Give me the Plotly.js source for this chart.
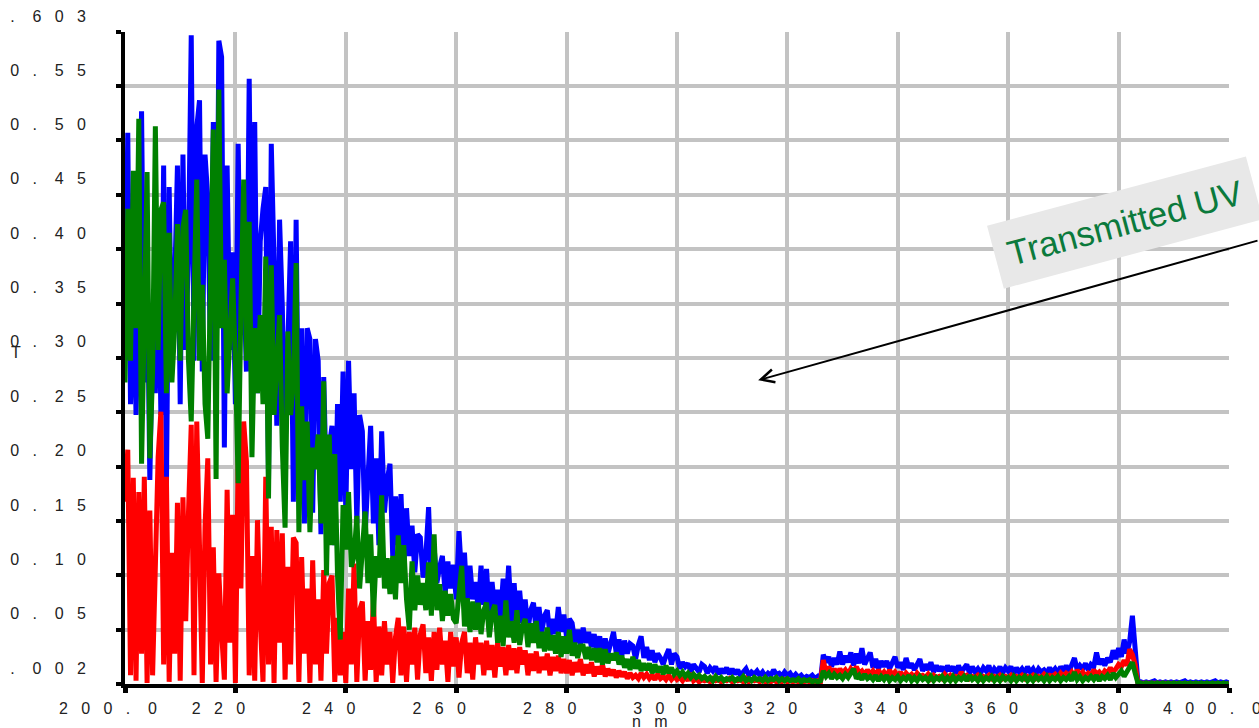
<!DOCTYPE html>
<html>
<head>
<meta charset="utf-8">
<script src="https://cdn.plot.ly/plotly-3.0.1.min.js"></script>
<style>
  html, body { margin: 0; padding: 0; background: #ffffff; }
  #chart { width: 1259px; height: 728px; }
</style>
</head>
<body>
<div id="chart"></div>
<script>
// Wavelength grid (nm): first sample and sampling step
const wavelengthStart = 200;
const wavelengthStep = 0.5;

// Transmittance, one row per 5 nm (10 samples)
const blueT = [
  0.30,0.51,0.26,0.38,0.25,0.36,0.53,0.28,0.40,0.19,
  0.33,0.27,0.42,0.25,0.48,0.18,0.46,0.30,0.37,0.48,
  0.26,0.49,0.31,0.40,0.60,0.30,0.515,0.54,0.29,0.49,
  0.45,0.30,0.52,0.27,0.595,0.58,0.22,0.48,0.31,0.40,
  0.26,0.50,0.33,0.38,0.29,0.56,0.30,0.52,0.27,0.41,
  0.44,0.46,0.19,0.50,0.39,0.24,0.43,0.35,0.22,0.30,
  0.41,0.17,0.43,0.19,0.33,0.15,0.33,0.32,0.16,0.32,
  0.30,0.14,0.285,0.18,0.22,0.24,0.13,0.26,0.17,0.29,
  0.16,0.30,0.20,0.27,0.15,0.25,0.235,0.14,0.19,0.24,
  0.15,0.21,0.13,0.235,0.16,0.19,0.205,0.12,0.175,0.13,
  0.177,0.11,0.164,0.12,0.148,0.105,0.14,0.137,0.10,0.12,
  0.165,0.09,0.128,0.095,0.11,0.12,0.085,0.115,0.09,0.112,
  0.08,0.143,0.10,0.123,0.075,0.111,0.08,0.096,0.07,0.111,
  0.075,0.108,0.065,0.096,0.07,0.089,0.062,0.099,0.07,0.111,
  0.06,0.095,0.055,0.088,0.058,0.08,0.052,0.07,0.077,0.05,
  0.073,0.05,0.065,0.07,0.046,0.062,0.048,0.073,0.05,0.066,
  0.045,0.062,0.058,0.04,0.052,0.038,0.054,0.04,0.05,0.036,
  0.048,0.032,0.046,0.03,0.044,0.03,0.04,0.05,0.03,0.043,
  0.028,0.042,0.03,0.039,0.037,0.025,0.038,0.046,0.026,0.036,
  0.024,0.033,0.022,0.03,0.026,0.02,0.028,0.034,0.02,0.03,
  0.027,0.016,0.022,0.018,0.021,0.013,0.02,0.017,0.013,0.02,
  0.018,0.012,0.017,0.014,0.018,0.011,0.016,0.012,0.017,0.011,
  0.016,0.011,0.015,0.01,0.014,0.016,0.01,0.013,0.011,0.014,
  0.01,0.013,0.009,0.012,0.01,0.015,0.011,0.012,0.009,0.013,
  0.01,0.012,0.008,0.011,0.008,0.01,0.007,0.009,0.008,0.01,
  0.007,0.009,0.006,0.029,0.022,0.027,0.018,0.026,0.02,0.032,
  0.02,0.028,0.022,0.031,0.019,0.03,0.021,0.035,0.02,0.026,
  0.031,0.017,0.025,0.016,0.023,0.018,0.023,0.016,0.021,0.027,
  0.017,0.022,0.015,0.026,0.017,0.021,0.015,0.02,0.025,0.014,
  0.02,0.015,0.022,0.013,0.019,0.014,0.018,0.012,0.019,0.014,
  0.018,0.012,0.019,0.013,0.017,0.02,0.012,0.018,0.013,0.016,
  0.012,0.017,0.014,0.019,0.011,0.016,0.013,0.018,0.012,0.017,
  0.014,0.018,0.011,0.017,0.013,0.016,0.012,0.018,0.013,0.016,
  0.011,0.016,0.013,0.015,0.012,0.017,0.013,0.016,0.012,0.018,
  0.014,0.019,0.013,0.02,0.026,0.015,0.019,0.016,0.021,0.015,
  0.02,0.018,0.031,0.02,0.025,0.019,0.026,0.022,0.033,0.025,
  0.035,0.027,0.043,0.03,0.041,0.065,0.04,0.004,0.004,0.003,
  0.004,0.003,0.004,0.005,0.003,0.004,0.003,0.004,0.003,0.004,
  0.003,0.004,0.003,0.004,0.005,0.003,0.004,0.003,0.004,0.003,
  0.004,0.003,0.004,0.003,0.004,0.005,0.003,0.004,0.003,0.004,
  0.003
];

const redT = [
  0.17,0.218,0.01,0.192,0.005,0.179,0.03,0.193,0.003,0.162,
  0.01,0.12,0.211,0.253,0.02,0.193,0.004,0.123,0.03,0.169,
  0.005,0.174,0.06,0.16,0.241,0.01,0.244,0.128,0.003,0.147,
  0.21,0.02,0.128,0.004,0.104,0.05,0.006,0.181,0.04,0.158,
  0.003,0.21,0.09,0.244,0.207,0.01,0.12,0.005,0.153,0.06,
  0.004,0.193,0.02,0.147,0.003,0.144,0.04,0.141,0.006,0.11,
  0.02,0.137,0.132,0.004,0.119,0.03,0.09,0.003,0.116,0.02,
  0.08,0.005,0.107,0.03,0.095,0.102,0.004,0.063,0.01,0.05,
  0.003,0.09,0.02,0.113,0.004,0.07,0.078,0.005,0.06,0.015,
  0.081,0.004,0.055,0.01,0.06,0.02,0.05,0.003,0.045,0.063,
  0.01,0.055,0.004,0.05,0.02,0.054,0.006,0.048,0.057,0.012,
  0.045,0.005,0.05,0.015,0.054,0.02,0.042,0.004,0.05,0.018,
  0.045,0.008,0.04,0.05,0.012,0.04,0.006,0.045,0.02,0.04,
  0.01,0.042,0.015,0.038,0.008,0.04,0.018,0.036,0.01,0.038,
  0.015,0.035,0.012,0.036,0.02,0.033,0.01,0.03,0.014,0.032,
  0.012,0.027,0.015,0.03,0.01,0.027,0.014,0.028,0.012,0.025,
  0.012,0.024,0.01,0.022,0.013,0.025,0.01,0.02,0.012,0.022,
  0.009,0.018,0.011,0.02,0.009,0.016,0.01,0.015,0.008,0.014,
  0.009,0.013,0.007,0.012,0.008,0.01,0.007,0.012,0.008,0.011,
  0.007,0.01,0.006,0.011,0.007,0.009,0.006,0.01,0.006,0.009,
  0.006,0.008,0.005,0.009,0.005,0.012,0.005,0.007,0.004,0.006,
  0.005,0.006,0.004,0.007,0.005,0.006,0.004,0.006,0.005,0.007,
  0.004,0.006,0.005,0.006,0.004,0.007,0.004,0.006,0.005,0.006,
  0.004,0.006,0.004,0.005,0.004,0.006,0.004,0.005,0.004,0.006,
  0.004,0.005,0.004,0.005,0.004,0.005,0.004,0.005,0.004,0.005,
  0.004,0.005,0.004,0.024,0.012,0.018,0.011,0.016,0.01,0.016,
  0.012,0.015,0.011,0.016,0.013,0.018,0.012,0.014,0.01,0.015,
  0.011,0.014,0.01,0.015,0.01,0.013,0.009,0.015,0.01,0.013,
  0.009,0.013,0.008,0.012,0.009,0.011,0.008,0.012,0.009,0.01,
  0.008,0.011,0.007,0.01,0.008,0.009,0.007,0.011,0.008,0.01,
  0.007,0.009,0.008,0.013,0.009,0.01,0.007,0.009,0.008,0.01,
  0.007,0.009,0.008,0.01,0.007,0.009,0.008,0.01,0.007,0.009,
  0.008,0.01,0.007,0.009,0.008,0.01,0.007,0.009,0.008,0.01,
  0.007,0.009,0.008,0.011,0.008,0.01,0.009,0.011,0.008,0.012,
  0.009,0.012,0.01,0.013,0.009,0.015,0.01,0.013,0.009,0.012,
  0.01,0.015,0.011,0.013,0.01,0.014,0.012,0.017,0.013,0.016,
  0.02,0.018,0.024,0.019,0.034,0.029,0.02,0.003,0.003,0.002,
  0.003,0.002,0.003,0.002,0.003,0.002,0.003,0.002,0.003,0.002,
  0.003,0.002,0.003,0.002,0.003,0.002,0.003,0.002,0.003,0.002,
  0.003,0.002,0.003,0.002,0.003,0.002,0.003,0.002,0.003,0.002,
  0.002
];

const greenT = [
  0.28,0.44,0.30,0.475,0.33,0.523,0.205,0.35,0.474,0.21,
  0.29,0.516,0.31,0.439,0.446,0.27,0.418,0.28,0.33,0.426,
  0.30,0.423,0.439,0.30,0.244,0.36,0.467,0.30,0.37,0.26,
  0.228,0.38,0.513,0.191,0.55,0.33,0.393,0.27,0.32,0.376,
  0.30,0.187,0.35,0.467,0.30,0.428,0.211,0.33,0.27,0.342,
  0.26,0.396,0.173,0.388,0.25,0.30,0.342,0.22,0.146,0.327,
  0.25,0.28,0.39,0.142,0.258,0.19,0.244,0.142,0.22,0.20,
  0.232,0.15,0.281,0.102,0.232,0.13,0.214,0.102,0.043,0.167,
  0.126,0.179,0.11,0.12,0.157,0.09,0.13,0.161,0.095,0.14,
  0.064,0.12,0.10,0.176,0.09,0.118,0.085,0.12,0.08,0.139,
  0.095,0.13,0.08,0.052,0.115,0.07,0.102,0.075,0.095,0.07,
  0.114,0.065,0.14,0.07,0.094,0.06,0.088,0.065,0.085,0.062,
  0.058,0.08,0.111,0.055,0.081,0.05,0.078,0.052,0.077,0.048,
  0.07,0.077,0.045,0.068,0.075,0.04,0.065,0.037,0.079,0.045,
  0.06,0.04,0.07,0.038,0.055,0.062,0.036,0.058,0.04,0.06,
  0.035,0.05,0.032,0.054,0.033,0.047,0.03,0.05,0.027,0.046,
  0.03,0.052,0.028,0.04,0.026,0.037,0.037,0.025,0.036,0.024,
  0.035,0.022,0.035,0.02,0.034,0.021,0.03,0.024,0.031,0.02,
  0.028,0.017,0.025,0.015,0.027,0.016,0.024,0.014,0.021,0.015,
  0.021,0.012,0.02,0.013,0.018,0.011,0.019,0.012,0.017,0.011,
  0.014,0.01,0.013,0.009,0.012,0.008,0.011,0.008,0.01,0.007,
  0.009,0.006,0.008,0.005,0.009,0.006,0.008,0.005,0.007,0.006,
  0.008,0.005,0.007,0.006,0.009,0.005,0.007,0.005,0.008,0.006,
  0.007,0.005,0.008,0.005,0.007,0.006,0.008,0.005,0.007,0.005,
  0.007,0.005,0.006,0.005,0.007,0.004,0.006,0.005,0.006,0.004,
  0.005,0.004,0.005,0.014,0.009,0.012,0.007,0.011,0.008,0.01,
  0.007,0.011,0.008,0.012,0.016,0.007,0.01,0.006,0.011,0.007,
  0.009,0.006,0.01,0.005,0.009,0.006,0.01,0.005,0.008,0.006,
  0.009,0.005,0.008,0.006,0.01,0.005,0.008,0.005,0.009,0.006,
  0.008,0.005,0.009,0.005,0.008,0.006,0.009,0.005,0.008,0.005,
  0.009,0.005,0.008,0.006,0.009,0.005,0.01,0.006,0.008,0.005,
  0.009,0.005,0.008,0.006,0.009,0.005,0.008,0.005,0.009,0.006,
  0.008,0.005,0.009,0.005,0.008,0.006,0.009,0.005,0.008,0.005,
  0.009,0.006,0.008,0.005,0.009,0.005,0.008,0.006,0.009,0.005,
  0.008,0.006,0.009,0.005,0.013,0.006,0.009,0.005,0.008,0.006,
  0.009,0.006,0.01,0.005,0.009,0.007,0.01,0.006,0.012,0.008,
  0.011,0.014,0.009,0.013,0.016,0.022,0.012,0.003,0.003,0.002,
  0.003,0.002,0.003,0.002,0.003,0.002,0.003,0.002,0.003,0.002,
  0.003,0.002,0.003,0.002,0.003,0.002,0.003,0.002,0.003,0.002,
  0.003,0.002,0.003,0.002,0.003,0.002,0.003,0.002,0.003,0.002,
  0.003
];

// Axis ticks
const xTickVals = [200, 220, 240, 260, 280, 300, 320, 340, 360, 380, 400];
const xTickText = ["200.0", "220", "240", "260", "280", "300", "320", "340", "360", "380", "400.0"];
const yTickVals = [0.002, 0.0521, 0.1022, 0.1523, 0.2024, 0.2525, 0.3026, 0.3527, 0.4028, 0.4529, 0.5030, 0.5531, 0.603];
const yTickText = [".002", "0.05", "0.10", "0.15", "0.20", "0.25", "0.30", "0.35", "0.40", "0.45", "0.50", "0.55", ".603"];
const xAxisTitle = "nm";
const yAxisTitle = "T";
const calloutText = "Transmitted UV";

// Wide letter spacing of the original labels (presentation only)
function spaced(s) {
  const NB = "\u00a0";
  return s.split("").map(function (c, i, a) {
    if (i === a.length - 1) return c;
    return c + (c === "." ? NB + NB + NB + NB : NB + NB + NB);
  }).join("");
}

const FONT = "Liberation Sans, Arial, Helvetica, sans-serif";

function trace(values, color) {
  return {
    type: "scatter", mode: "lines",
    x0: wavelengthStart, dx: wavelengthStep, y: values,
    line: { color: color, width: 5, shape: "linear" },
    hoverinfo: "skip", showlegend: false
  };
}

const data = [
  trace(blueT, "#0000ff"),
  trace(redT, "#ff0000"),
  trace(greenT, "#008000")
];

const layout = {
  width: 1259, height: 728,
  margin: { l: 125, r: 30, t: 32, b: 44, pad: 0 },
  paper_bgcolor: "#ffffff", plot_bgcolor: "#ffffff",
  showlegend: false,
  hovermode: false,
  font: { family: FONT, size: 16, color: "#222222" },
  xaxis: {
    range: [200, 400],
    tickmode: "array", tickvals: xTickVals, ticktext: xTickText.map(spaced),
    showgrid: true, gridcolor: "#c3c3c3", gridwidth: 4,
    zeroline: false,
    showline: true, linecolor: "#000000", linewidth: 4,
    ticks: "outside", ticklen: 5, tickwidth: 5, tickcolor: "#000000",
    tickfont: { family: FONT, size: 16, color: "#222222" },
    ticklabelshift: -17, ticklabelstandoff: 2, ticklabeloverflow: "allow",
    fixedrange: true
  },
  yaxis: {
    range: [0.002, 0.603],
    tickmode: "array", tickvals: yTickVals, ticktext: yTickText.map(spaced),
    showgrid: true, gridcolor: "#c3c3c3", gridwidth: 4,
    zeroline: false,
    showline: true, linecolor: "#000000", linewidth: 4,
    ticks: "outside", ticklen: 5, tickwidth: 4, tickcolor: "#000000",
    tickfont: { family: FONT, size: 16, color: "#222222" },
    ticklabelshift: -16, ticklabelstandoff: 27, ticklabeloverflow: "allow",
    fixedrange: true
  },
  annotations: [
    {
      xref: "paper", yref: "paper", x: 0.4755, y: -0.042,
      xanchor: "center", yanchor: "top", showarrow: false,
      text: spaced(xAxisTitle), font: { family: FONT, size: 16, color: "#222222" }
    },
    {
      xref: "paper", yref: "paper", x: -0.0987, y: 0.508,
      xanchor: "center", yanchor: "middle", showarrow: false,
      text: yAxisTitle, font: { family: FONT, size: 16, color: "#222222" }
    },
    {
      xref: "x", yref: "y", x: 314.7, y: 0.282,
      text: "", showarrow: true,
      axref: "pixel", ayref: "pixel", ax: 545, ay: -140,
      arrowhead: 5, arrowsize: 1.3, arrowwidth: 2, arrowcolor: "#000000",
      standoff: 0, startstandoff: 0
    },
    {
      xref: "x", yref: "y", x: 381.2, y: 0.427,
      xanchor: "center", yanchor: "middle", showarrow: false,
      text: calloutText, textangle: -15,
      font: { family: FONT, size: 35, color: "#0b7a3c" },
      bgcolor: "#e8e8e8", borderpad: 13, borderwidth: 0
    }
  ]
};

Plotly.newPlot("chart", data, layout, { staticPlot: true, displayModeBar: false });
</script>
</body>
</html>
